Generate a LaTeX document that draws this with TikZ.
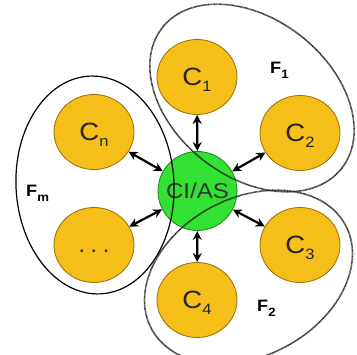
\documentclass[tikz,border=0pt]{standalone}
\usepackage{fontspec}
\setmainfont{Liberation Sans}
\usetikzlibrary{shapes.geometric,arrows.meta}
\definecolor{nodeyellow}{RGB}{245,190,25}
\definecolor{nodeedge}{RGB}{150,110,10}
\definecolor{hubgreen}{RGB}{50,225,50}
\definecolor{hubedge}{RGB}{30,130,30}
\newcommand{\clab}[2]{\scalebox{1.1}[1]{#1\raisebox{-6pt}[0pt][0pt]{\fontsize{15}{15}\selectfont #2}}}
\newcommand{\flab}[2]{\scalebox{1.1}[1]{\bfseries #1\raisebox{-5pt}[0pt][0pt]{\fontsize{12}{12}\selectfont\bfseries #2}}}
\begin{document}
\begin{tikzpicture}[x=1pt,y=-1pt,
  client/.style={ellipse, draw=nodeedge, line width=0.8pt, fill=nodeyellow,
    minimum width=80pt, minimum height=75pt, inner sep=0pt,
    font=\fontsize{25}{25}\selectfont, text=black!85},
  hub/.style={circle, draw=hubedge, line width=0.8pt, fill=hubgreen,
    minimum size=79pt, inner sep=0pt, font=\fontsize{21.5}{21.5}\selectfont, text=black!80},
  link/.style={line width=2.2pt, {Stealth[length=9pt,width=9pt]}-{Stealth[length=9pt,width=9pt]}},
  fedsolid/.style={line width=1.2pt, black},
  feddot/.style={line width=1.6pt, black!85, dash pattern=on 0.7pt off 0.5pt},
  flabel/.style={anchor=base west, inner sep=0pt, font=\fontsize{16.5}{16.5}\selectfont}
]
\useasboundingbox (0,0) rectangle (357,355);
\node[hub] (hub) at (197.5,191) {\scalebox{1.12}[1]{CI/AS}};
\node[client] (c1) at (197,77) {\clab{C}{1}};
\node[client] (c2) at (300,133) {\clab{C}{2}};
\node[client] (c3) at (300,245) {\clab{C}{3}};
\node[client] (c4) at (197,300) {\clab{C}{4}};
\node[client] (cn) at (94,132) {\clab{C}{n}};
\node[client] (cd) at (94,245) {\raisebox{-13pt}[0pt][0pt]{\scalebox{1.1}[1]{\bfseries $\cdots$}}};
\foreach \n in {c1,c2,c3,c4,cn,cd} \draw[link] (hub) -- (\n);
% federations
\draw[fedsolid] (95,185) ellipse[x radius=79pt, y radius=109pt, rotate=3];
\draw[feddot] (252,98) ellipse[x radius=114pt, y radius=79pt, rotate=-38];
\draw[feddot] (248.5,277) ellipse[x radius=110pt, y radius=79pt, rotate=28];
\node[flabel] (f1) at (270,74) {\flab{F}{1}};
\node[flabel] (f2) at (257,312) {\flab{F}{2}};
\node[flabel] (fm) at (26,197) {\flab{F}{m}};
\end{tikzpicture}
\end{document}
